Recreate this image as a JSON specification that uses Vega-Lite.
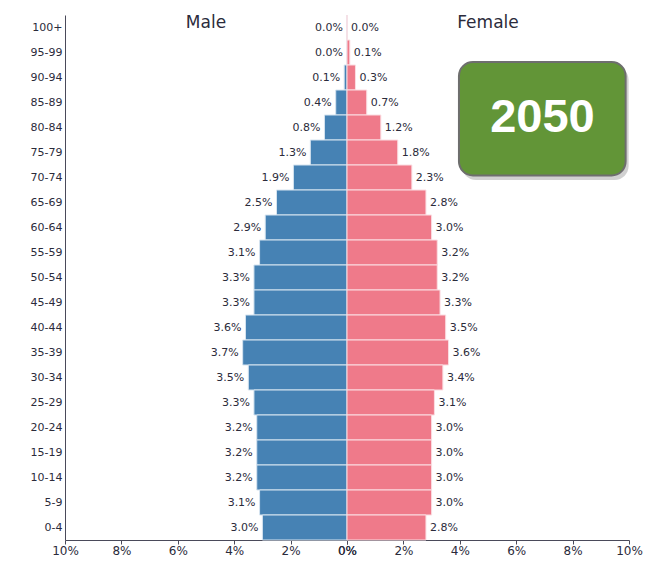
{
  "$schema": "https://vega.github.io/schema/vega-lite/v6.json",
  "padding": {"left": 30, "top": 13, "right": 5, "bottom": 5},
  "spacing": 0,
  "bounds": "flush",
  "config": {
    "view": {"stroke": null},
    "font": "DejaVu Sans",
    "axis": {"labelFont": "DejaVu Sans", "labelFontSize": 11, "labelColor": "#2b2b3b", "domainColor": "#4a4a5a", "tickColor": "#4a4a5a", "grid": false, "title": null},
    "title": {"font": "DejaVu Sans", "fontSize": 17, "fontWeight": "normal", "color": "#2b2b3b"}
  },
  "datasets": {
    "pop": [
      {"age": "100+", "male": 0.0, "female": 0.0},
      {"age": "95-99", "male": 0.0, "female": 0.1},
      {"age": "90-94", "male": 0.1, "female": 0.3},
      {"age": "85-89", "male": 0.4, "female": 0.7},
      {"age": "80-84", "male": 0.8, "female": 1.2},
      {"age": "75-79", "male": 1.3, "female": 1.8},
      {"age": "70-74", "male": 1.9, "female": 2.3},
      {"age": "65-69", "male": 2.5, "female": 2.8},
      {"age": "60-64", "male": 2.9, "female": 3.0},
      {"age": "55-59", "male": 3.1, "female": 3.2},
      {"age": "50-54", "male": 3.3, "female": 3.2},
      {"age": "45-49", "male": 3.3, "female": 3.3},
      {"age": "40-44", "male": 3.6, "female": 3.5},
      {"age": "35-39", "male": 3.7, "female": 3.6},
      {"age": "30-34", "male": 3.5, "female": 3.4},
      {"age": "25-29", "male": 3.3, "female": 3.1},
      {"age": "20-24", "male": 3.2, "female": 3.0},
      {"age": "15-19", "male": 3.2, "female": 3.0},
      {"age": "10-14", "male": 3.2, "female": 3.0},
      {"age": "5-9", "male": 3.1, "female": 3.0},
      {"age": "0-4", "male": 3.0, "female": 2.8}
    ],
    "badge": [{"year": "2050"}]
  },
  "hconcat": [
    {
      "width": 282,
      "height": 525,
      "title": {"text": "Male", "offset": -17},
      "data": {"name": "pop"},
      "layer": [
        {
          "mark": {"type": "bar", "color": "#4682b4", "stroke": "#d6e4f0", "strokeWidth": 1},
          "encoding": {
            "y": {"field": "age", "type": "nominal", "sort": null, "scale": {"paddingInner": 0, "paddingOuter": 0}, "axis": {"ticks": false, "labelPadding": 3, "domainColor": "#4a4a5a"}},
            "x": {"field": "male", "type": "quantitative", "scale": {"domain": [0, 10], "reverse": true, "nice": false}, "axis": {"values": [0, 2, 4, 6, 8, 10], "labelExpr": "datum.value + '%'", "tickSize": 4, "labelPadding": 1, "labelFontSize": 12, "labelFlush": false, "labelOverlap": false}}
          }
        },
        {
          "mark": {"type": "text", "align": "right", "baseline": "middle", "dx": -4, "fontSize": 11, "color": "#2b2b3b", "text": {"expr": "format(datum.male, '.1f') + '%'"}},
          "encoding": {
            "y": {"field": "age", "type": "nominal", "sort": null},
            "x": {"field": "male", "type": "quantitative"}
          }
        }
      ]
    },
    {
      "width": 282,
      "height": 525,
      "title": {"text": "Female", "offset": -17},
      "layer": [
        {
          "data": {"name": "pop"},
          "mark": {"type": "bar", "color": "#ef7a8a", "stroke": "#fbdde2", "strokeWidth": 1},
          "encoding": {
            "y": {"field": "age", "type": "nominal", "sort": null, "scale": {"paddingInner": 0, "paddingOuter": 0}, "axis": null},
            "x": {"field": "female", "type": "quantitative", "scale": {"domain": [0, 10], "nice": false}, "axis": {"values": [0, 2, 4, 6, 8, 10], "labelExpr": "datum.value + '%'", "tickSize": 4, "labelPadding": 1, "labelFontSize": 12, "labelFlush": false, "labelOverlap": false}}
          }
        },
        {
          "data": {"name": "pop"},
          "mark": {"type": "text", "align": "left", "baseline": "middle", "dx": 4, "fontSize": 11, "color": "#2b2b3b", "text": {"expr": "format(datum.female, '.1f') + '%'"}},
          "encoding": {
            "y": {"field": "age", "type": "nominal", "sort": null},
            "x": {"field": "female", "type": "quantitative"}
          }
        },
        {
          "data": {"name": "badge"},
          "mark": {"type": "rect", "color": "#999999", "opacity": 0.45, "cornerRadius": 14, "xOffset": 3, "x2Offset": 3, "yOffset": -11.5, "y2Offset": 2.5},
          "encoding": {
            "x": {"datum": 3.97},
            "x2": {"datum": 9.88},
            "y": {"datum": "90-94"},
            "y2": {"datum": "70-74"}
          }
        },
        {
          "data": {"name": "badge"},
          "mark": {"type": "rect", "color": "#629537", "stroke": "#6e6e6e", "strokeWidth": 2, "cornerRadius": 14, "yOffset": -15.5, "y2Offset": -2},
          "encoding": {
            "x": {"datum": 3.97},
            "x2": {"datum": 9.88},
            "y": {"datum": "90-94"},
            "y2": {"datum": "70-74"}
          }
        },
        {
          "data": {"name": "badge"},
          "mark": {"type": "text", "font": "Liberation Sans", "fontWeight": "bold", "fontSize": 47, "color": "white", "align": "center", "baseline": "middle", "dy": -10},
          "encoding": {
            "x": {"datum": 6.93},
            "y": {"datum": "80-84"},
            "text": {"field": "year"}
          }
        }
      ]
    }
  ]
}
